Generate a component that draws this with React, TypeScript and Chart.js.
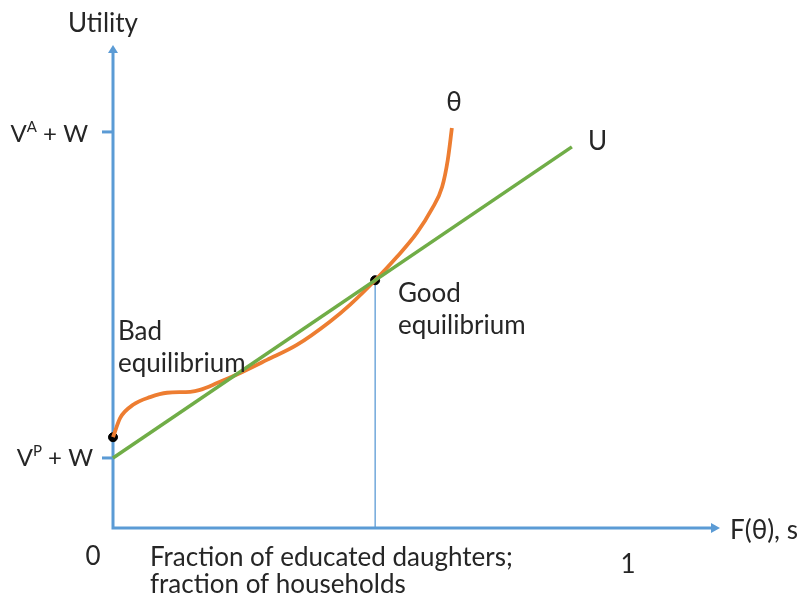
import React, { useEffect, useRef } from "react";
import { Chart, registerables } from "chart.js";

Chart.register(...registerables);

// Axis limits (x: fraction, y: utility in normalised units)
const X_MAX = 1.1786;
const Y_MAX = 1;

// Tick values on the utility axis
const V_P_W = 0.145; // V^P + W
const V_A_W = 0.82; // V^A + W

// Orange θ curve
const thetaX = [0, 0.014, 0.039, 0.072, 0.105, 0.15, 0.169, 0.202, 0.247, 0.299, 0.357, 0.421, 0.46, 0.509, 0.551, 0.59, 0.619, 0.639, 0.65, 0.658];
const thetaY = [0.188, 0.228, 0.255, 0.271, 0.28, 0.282, 0.286, 0.3, 0.321, 0.348, 0.379, 0.427, 0.462, 0.513, 0.561, 0.611, 0.66, 0.706, 0.762, 0.828];

// Green U line
const uX = [0, 0.891];
const uY = [0.145, 0.789];

// Equilibrium points
const eqX = [0, 0.509];
const eqY = [0.188, 0.513];

const BLUE = "#5B9BD5";
const ORANGE = "#ED7D31";
const GREEN = "#70AD47";
const TEXT = "#262626";
const FONT = "Lato, 'Open Sans', sans-serif";
const FS = 26;
const FS_V = 24;
const FS_SUP = 15;

const overlay = {
  id: "overlay",
  beforeDatasetsDraw(chart: any) {
    const { ctx, scales } = chart;
    const xs = scales.x;
    const ys = scales.y;
    const x0 = xs.getPixelForValue(0);
    const y0 = ys.getPixelForValue(0);
    const xEnd = xs.getPixelForValue(X_MAX);
    const yEnd = ys.getPixelForValue(Y_MAX);
    ctx.save();
    // vertical line at good equilibrium
    ctx.strokeStyle = BLUE;
    ctx.lineWidth = 1.3;
    ctx.beginPath();
    ctx.moveTo(xs.getPixelForValue(eqX[1]), y0);
    ctx.lineTo(xs.getPixelForValue(eqX[1]), ys.getPixelForValue(eqY[1]));
    ctx.stroke();
    // axes
    ctx.lineWidth = 3;
    ctx.lineCap = "butt";
    ctx.beginPath();
    ctx.moveTo(x0, yEnd + 6);
    ctx.lineTo(x0, y0);
    ctx.lineTo(xEnd - 7, y0);
    ctx.stroke();
    // arrow heads
    ctx.fillStyle = BLUE;
    ctx.beginPath();
    ctx.moveTo(x0, yEnd);
    ctx.lineTo(x0 - 5, yEnd + 8);
    ctx.lineTo(x0 + 5, yEnd + 8);
    ctx.closePath();
    ctx.fill();
    ctx.beginPath();
    ctx.moveTo(xEnd, y0);
    ctx.lineTo(xEnd - 9, y0 - 5);
    ctx.lineTo(xEnd - 9, y0 + 5);
    ctx.closePath();
    ctx.fill();
    // ticks
    ctx.lineWidth = 3;
    [V_A_W, V_P_W].forEach((v) => {
      const py = ys.getPixelForValue(v);
      ctx.beginPath();
      ctx.moveTo(x0 - 11, py);
      ctx.lineTo(x0, py);
      ctx.stroke();
    });
    ctx.restore();
  },
  afterDatasetsDraw(chart: any) {
    const { ctx, scales } = chart;
    const xs = scales.x;
    const ys = scales.y;
    const x0 = xs.getPixelForValue(0);
    ctx.save();
    ctx.fillStyle = TEXT;
    ctx.textBaseline = "middle";
    const f = (s: number) => `${s}px ${FONT}`;
    const text = (t: string, x: number, y: number, size: number, align: CanvasTextAlign = "left") => {
      ctx.font = f(size);
      ctx.textAlign = align;
      ctx.fillText(t, x, y);
    };
    // superscript labels, right-aligned to a given x
    const supLabel = (base: string, sup: string, rest: string, right: number, y: number) => {
      ctx.font = f(FS_V);
      const wb = ctx.measureText(base).width;
      const wr = ctx.measureText(rest).width;
      ctx.font = f(FS_SUP);
      const ws = ctx.measureText(sup).width;
      let x = right - wb - ws - wr;
      ctx.textAlign = "left";
      ctx.font = f(FS_V);
      ctx.fillText(base, x, y);
      x += wb;
      ctx.font = f(FS_SUP);
      ctx.fillText(sup, x, y - 7);
      x += ws;
      ctx.font = f(FS_V);
      ctx.fillText(rest, x, y);
    };
    text("Utility", 103, 24, FS, "center");
    supLabel("V", "A", " + W", x0 - 25, ys.getPixelForValue(V_A_W) + 2);
    supLabel("V", "P", " + W", x0 - 20, ys.getPixelForValue(V_P_W));
    text("0", 93, 557, FS, "center");
    text("1", xs.getPixelForValue(1), 565, FS, "center");
    text("F(θ), s", 730, 531, FS, "left");
    text("θ", 454, 103, FS, "center");
    text("U", 588, 142, FS, "left");
    text("Good", 398, 294, FS, "left");
    text("equilibrium", 398, 326, FS, "left");
    text("Bad", 118, 332, FS, "left");
    text("equilibrium", 118, 364, FS, "left");
    text("Fraction of educated daughters;", 150, 558, FS, "left");
    text("fraction of households", 150, 585, FS, "left");
    ctx.restore();
  },
};

export default function App() {
  const ref = useRef<HTMLCanvasElement>(null);
  useEffect(() => {
    if (!ref.current) return;
    const chart = new Chart(ref.current, {
      type: "scatter",
      data: {
        datasets: [
          {
            label: "U",
            data: uX.map((x, i) => ({ x, y: uY[i] })),
            showLine: true,
            borderColor: GREEN,
            borderWidth: 3.5,
            pointRadius: 0,
            clip: false,
          },
          {
            label: "θ",
            data: thetaX.map((x, i) => ({ x, y: thetaY[i] })),
            showLine: true,
            borderColor: ORANGE,
            borderWidth: 3.8,
            pointRadius: 0,
            cubicInterpolationMode: "monotone",
            clip: false,
          },
          {
            label: "equilibria",
            data: eqX.map((x, i) => ({ x, y: eqY[i] })),
            showLine: false,
            backgroundColor: "#000",
            borderColor: "#000",
            pointRadius: 4.5,
            clip: false,
          },
        ],
      },
      options: {
        responsive: false,
        animation: false,
        layout: { padding: { left: 113, right: 83, top: 45, bottom: 72 } },
        plugins: { legend: { display: false }, tooltip: { enabled: false } },
        scales: {
          x: { type: "linear", min: 0, max: X_MAX, display: false },
          y: { type: "linear", min: 0, max: Y_MAX, display: false },
        },
      },
      plugins: [overlay],
    });
    return () => chart.destroy();
  }, []);
  return (
    <div style={{ position: "absolute", left: 0, top: 0, width: 803, height: 600, background: "#fff" }}>
      <canvas ref={ref} width={803} height={600} />
    </div>
  );
}
